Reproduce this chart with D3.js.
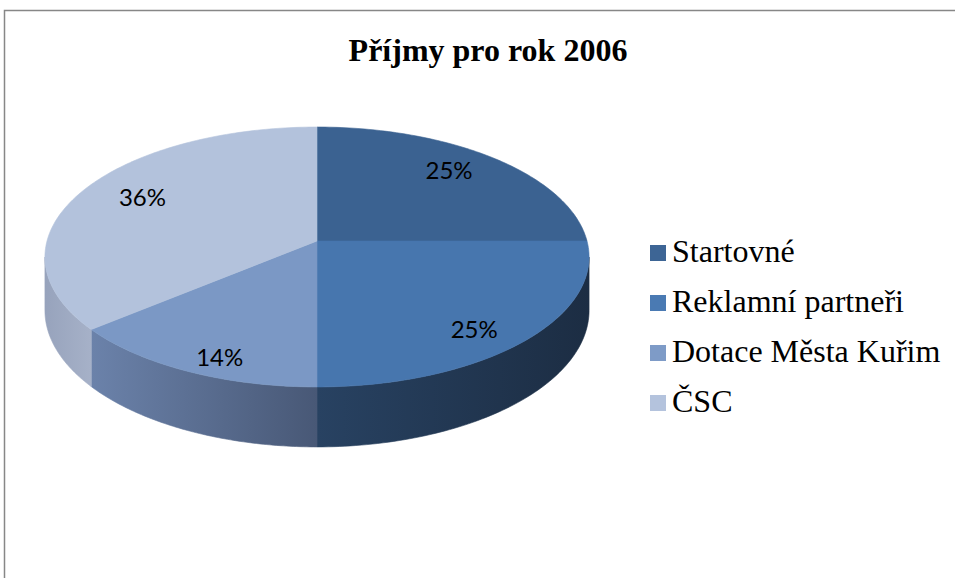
<!DOCTYPE html>
<html>
<head>
<meta charset="utf-8">
<script src="https://cdn.jsdelivr.net/npm/d3@7"></script>
<style>
  html, body { margin: 0; padding: 0; background: #fff; }
  svg { display: block; }
</style>
</head>
<body>
<svg id="chart" width="955" height="578"></svg>
<script>
// ---- data ----
const title = "Příjmy pro rok 2006";
const categories = ["Startovné", "Reklamní partneři", "Dotace Města Kuřim", "ČSC"];
const values = [25, 25, 14, 36];
const labels = ["25%", "25%", "14%", "36%"];
const topColors = ["#3b6291", "#4776ae", "#7b98c5", "#b3c2dc"];
const legendColors = ["#3d6595", "#4a7ab3", "#7e9bc7", "#b4c3dd"];
const sideColors = [["#2a4466", "#1e3048"], ["#284262", "#1c2d43"], ["#6b82aa", "#485876"], ["#97a3bc", "#a6b1c8"]];

// ---- layout ----
const svg = d3.select("#chart");

// border (only top and left visible in the reference)
svg.append("rect").attr("x", 4.5).attr("y", 10.5).attr("width", 1200).attr("height", 1200)
  .attr("fill", "none").attr("stroke", "#878787").attr("stroke-width", 1.5);

svg.append("text").attr("x", 488).attr("y", 61).attr("text-anchor", "middle")
  .attr("font-family", "'Liberation Serif', 'Times New Roman', serif")
  .attr("font-weight", "bold").attr("font-size", 32).attr("fill", "#000").text(title);

// perspective pie projection
const cx = 317, cy = 241, A = 270, B = 128, K = 0.123, DEPTH = 52.6;
function proj(theta, r, drop) {
  const u = r * Math.sin(theta), v = -r * Math.cos(theta);
  const s = 1 / (1 - K * v);
  const sEdge = 1 / (1 - K * (-Math.cos(theta)));
  return [cx + A * u * s, cy + B * v * s + drop * DEPTH * sEdge];
}

const pie = d3.pie().sort(null).value(d => d)(values);
const defs = svg.append("defs");
const g = svg.append("g");

const thMin = Math.acos(-K), thMax = 2 * Math.PI - Math.acos(-K);
const line = d3.line();

// walls first
pie.forEach((p, i) => {
  const a0 = Math.max(p.startAngle, thMin), a1 = Math.min(p.endAngle, thMax);
  if (a1 <= a0) return;
  const n = 80;
  const topPts = d3.range(n + 1).map(j => proj(a0 + (a1 - a0) * j / n, 1, 0));
  const botPts = d3.range(n + 1).map(j => proj(a0 + (a1 - a0) * j / n, 1, 1)).reverse();
  const pts = topPts.concat(botPts);
  const xs = pts.map(q => q[0]);
  const gid = "wall" + i;
  const grad = defs.append("linearGradient").attr("id", gid)
    .attr("gradientUnits", "userSpaceOnUse")
    .attr("x1", d3.min(xs)).attr("x2", d3.max(xs)).attr("y1", 0).attr("y2", 0);
  grad.append("stop").attr("offset", 0).attr("stop-color", sideColors[i][0]);
  grad.append("stop").attr("offset", 1).attr("stop-color", sideColors[i][1]);
  g.append("path").attr("d", line(pts) + "Z").attr("fill", `url(#${gid})`)
    .attr("stroke", `url(#${gid})`).attr("stroke-width", 0.6);
});

// top faces
pie.forEach((p, i) => {
  const n = Math.max(20, Math.round((p.endAngle - p.startAngle) * 60));
  const pts = [proj(0, 0, 0)].concat(d3.range(n + 1).map(j => proj(p.startAngle + (p.endAngle - p.startAngle) * j / n, 1, 0)));
  g.append("path").attr("d", line(pts) + "Z").attr("fill", topColors[i])
    .attr("stroke", topColors[i]).attr("stroke-width", 0.6);
});

// data labels
pie.forEach((p, i) => {
  const mid = (p.startAngle + p.endAngle) / 2;
  const u = Math.sin(mid), v = -Math.cos(mid);
  const s = 1 / (1 - K * v);
  const x = cx + 203 * u * s, y = cy + 112 * v * s + 2;
  g.append("text").attr("x", x).attr("y", y).attr("dy", "0.36em")
    .attr("text-anchor", "middle")
    .attr("font-family", "Lato, 'Open Sans', sans-serif").attr("font-size", 24)
    .attr("fill", "#000").text(labels[i]);
});

// legend
const legend = svg.append("g");
categories.forEach((c, i) => {
  const y = 262 + i * 50;
  legend.append("rect").attr("x", 650).attr("y", y - 17).attr("width", 16).attr("height", 16)
    .attr("fill", legendColors[i]);
  legend.append("text").attr("x", 672).attr("y", y)
    .attr("font-family", "'Liberation Serif', 'Times New Roman', serif")
    .attr("font-size", 32).attr("fill", "#000").text(c);
});
</script>
</body>
</html>
